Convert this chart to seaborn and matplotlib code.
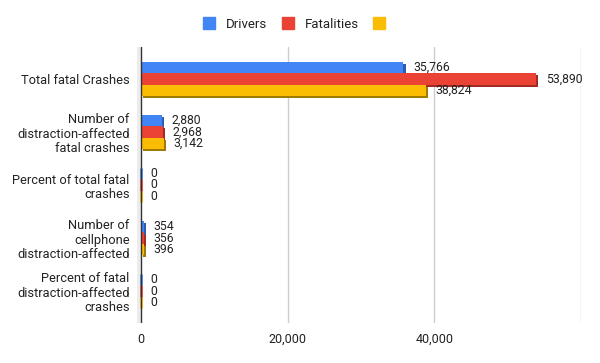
import pandas as pd
import matplotlib
matplotlib.use('Agg')
import matplotlib.pyplot as plt
import matplotlib.patheffects as pe
from matplotlib.lines import Line2D
import seaborn as sns

categories = ["Total fatal Crashes",
              "Number of\ndistraction-affected\nfatal crashes",
              "Percent of total fatal\ncrashes",
              "Number of\ncellphone\ndistraction-affected",
              "Percent of fatal\ndistraction-affected\ncrashes"]
series = ["Drivers", "Fatalities", " "]
drivers = [35766, 2880, 0, 354, 0]
fatalities = [53890, 2968, 0, 356, 0]
third = [38824, 3142, 0, 396, 0]
colors = ["#4285F4", "#EA4335", "#FBBC04"]
shadows = ["#2d5db0", "#a32c22", "#a07a02"]

rows = []
for name, vals in zip(series, [drivers, fatalities, third]):
    for c, v in zip(categories, vals):
        rows.append((c, name, v))
df = pd.DataFrame(rows, columns=["cat", "series", "value"])

sns.set_style("white")
plt.rcParams['font.family'] = ['Roboto', 'DejaVu Sans']
txt = "#222222"

fig = plt.figure(figsize=(6, 3.63), dpi=100)
ax = fig.add_axes([136.6 / 600, 1 - 323 / 363, (581 - 136.6) / 600, 276 / 363])

sns.barplot(data=df, y="cat", x="value", hue="series", palette=colors,
            orient="h", width=0.64, gap=0, ax=ax, saturation=1, errorbar=None,
            legend=False)

for cont, col, sh in zip(ax.containers, colors, shadows):
    for p in cont:
        if p.get_width() == 0:
            # google draws a thin side face even for empty bars
            p.set_edgecolor(col)
            p.set_linewidth(2.2)
            p.set_alpha(0.8)
        else:
            p.set_edgecolor("none")
            p.set_path_effects([pe.SimplePatchShadow(offset=(1.6, -1.6), shadow_rgbFace=sh, alpha=1),
                                pe.Normal()])
    ax.bar_label(cont, labels=[f"{int(v):,}" for v in cont.datavalues],
                 padding=7, fontsize=8.8, color=txt)

ax.set_xlim(-600, 60000)
ax.set_ylim(4.6, -0.6)
ax.axvspan(-600, 0, color="#ececec", zorder=0, lw=0)
ax.set_xticks([0, 20000, 40000, 60000])
ax.set_xticklabels(["0", "20,000", "40,000", ""], fontsize=9, color=txt)
ax.tick_params(axis="x", length=0, pad=7)
ax.tick_params(axis="y", length=0, pad=5, labelsize=9.3, labelcolor=txt)
for lab in ax.get_yticklabels():
    lab.set_horizontalalignment("right")
    lab.set_multialignment("right")
    lab.set_linespacing(1.15)
for xv in [20000, 40000, 60000]:
    ax.axvline(xv, color="#cccccc", lw=1, zorder=0)
ax.axvline(0, color="#333333", lw=1, zorder=3)
for s in ax.spines.values():
    s.set_visible(False)
ax.set_xlabel("")
ax.set_ylabel("")

handles = [Line2D([], [], marker="s", ls="", markersize=8, color=c) for c in colors]
fig.legend(handles, ["Drivers", "Fatalities", ""], loc="center",
           bbox_to_anchor=(0.5, 1 - 24 / 363), ncol=3, frameon=False,
           fontsize=9.5, handlelength=0.8, handletextpad=0.9,
           columnspacing=1.15, labelcolor=txt)

fig.savefig("out.png", dpi=100)
